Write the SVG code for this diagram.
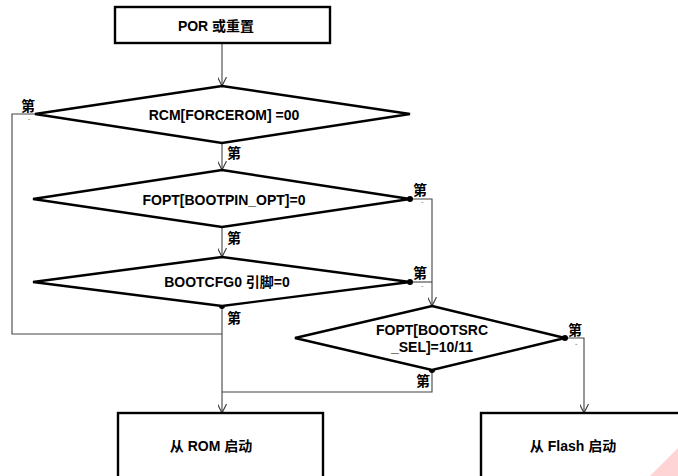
<svg xmlns="http://www.w3.org/2000/svg" width="678" height="476" viewBox="0 0 678 476">
<style>
.box{fill:#fff;stroke:#000;stroke-width:2.4}
.dia{fill:#fff;stroke:#000;stroke-width:2.4}
.t{font-family:"Liberation Sans","Noto Sans CJK SC",Arial,sans-serif;font-weight:bold;font-size:14px;fill:#000;text-anchor:middle}
.lbl{font-family:"Liberation Sans","Noto Sans CJK SC",sans-serif;font-weight:bold;font-size:14px;fill:#000}
.tick{font-family:"Liberation Sans",sans-serif;font-size:7px;fill:#666}
.c{fill:none;stroke:#444;stroke-width:1.1}
.dot{fill:#000}
</style>
<defs>
<marker id="arr" viewBox="0 0 10 10" refX="10" refY="5" markerWidth="9" markerHeight="9" markerUnits="userSpaceOnUse" orient="auto">
<path d="M0,0 L10,5 L0,10" fill="none" stroke="#333" stroke-width="1.2"/>
</marker>
</defs>
<rect width="678" height="476" fill="#fff"/>
<g id="connectors">
<path class="c" d="M222,43 V86" marker-end="url(#arr)"/>
<path class="c" d="M222,143 V170" marker-end="url(#arr)"/>
<path class="c" d="M222,227 V257" marker-end="url(#arr)"/>
<path class="c" d="M222,306 V413" marker-end="url(#arr)"/>
<path class="c" d="M35,114 H12 V334 H222"/>
<path class="c" d="M410,199 H432 V306" marker-end="url(#arr)"/>
<path class="c" d="M410,282 H432"/>
<path class="c" d="M565,338 H584 V413" marker-end="url(#arr)"/>
<path class="c" d="M432,370 V392 H222"/>
<circle class="dot" cx="222" cy="306" r="3"/>
<circle class="dot" cx="410" cy="199" r="3"/>
<circle class="dot" cx="410" cy="282" r="3"/>
<circle class="dot" cx="565" cy="338" r="3"/>
<circle class="dot" cx="432" cy="370" r="3"/>
<text class="lbl" x="21" y="111">第</text>
<text class="tick" x="28" y="121">-</text>
<text class="lbl" x="227" y="158">第</text>
<text class="lbl" x="227" y="243">第</text>
<text class="lbl" x="227" y="323">第</text>
<text class="lbl" x="413" y="195">第</text>
<text class="tick" x="421" y="204">-</text>
<text class="lbl" x="413" y="278">第</text>
<text class="tick" x="421" y="288">-</text>
<text class="lbl" x="568" y="335">第</text>
<text class="tick" x="575" y="346">-</text>
<text class="lbl" x="416" y="386">第</text>
</g>
<g id="start">
<rect class="box" x="115" y="7" width="215" height="36"/>
<text class="t" x="216" y="31">POR 或重置</text>
</g>
<g id="d1">
<polygon class="dia" points="222,86 410,114 222,143 35,114"/>
<text class="t" x="224" y="120">RCM[FORCEROM] =00</text>
</g>
<g id="d2">
<polygon class="dia" points="222,170 410,199 222,227 33,199"/>
<text class="t" x="224" y="205">FOPT[BOOTPIN_OPT]=0</text>
</g>
<g id="d3">
<polygon class="dia" points="222,257 410,282 222,306 33,282"/>
<text class="t" x="227" y="287">BOOTCFG0 引脚=0</text>
</g>
<g id="d4">
<polygon class="dia" points="432,306 565,338 432,370 295,338"/>
<text class="t" x="432" y="335">FOPT[BOOTSRC</text>
<text class="t" x="432" y="352">_SEL]=10/11</text>
</g>
<g id="rom">
<rect class="box" x="118" y="413" width="205" height="80"/>
<text class="t" x="211" y="451">从 ROM 启动</text>
</g>
<g id="flash">
<rect class="box" x="481" y="413" width="220" height="80"/>
<text class="t" x="573" y="451">从 Flash 启动</text>
</g>
<polygon points="650,476 678,448 678,476" fill="#ffd4d4"/>
</svg>
